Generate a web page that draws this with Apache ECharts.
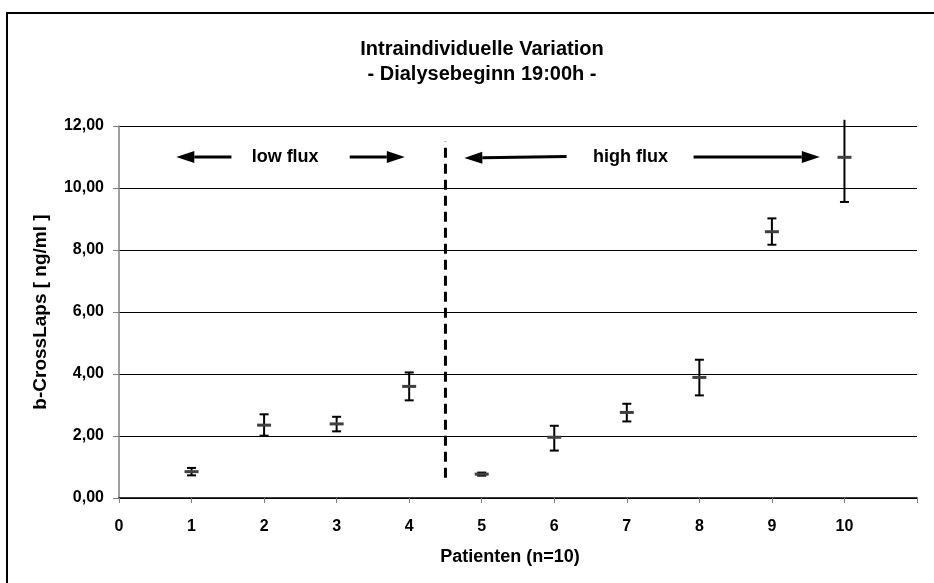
<!DOCTYPE html>
<html>
<head>
<meta charset="utf-8">
<script src="https://cdn.jsdelivr.net/npm/echarts@6/dist/echarts.min.js"></script>
<style>
html,body{margin:0;padding:0;background:#fff;}
#c{width:934px;height:583px;}
</style>
</head>
<body>
<div id="c"></div>
<script>
// Data
const patients = [1, 2, 3, 4, 5, 6, 7, 8, 9, 10];
const means = [0.85, 2.35, 2.39, 3.60, 0.77, 1.96, 2.76, 3.89, 8.59, 10.99];
const lows  = [0.73, 2.01, 2.15, 3.15, 0.72, 1.53, 2.47, 3.31, 8.17, 9.55];
const highs = [0.97, 2.70, 2.62, 4.05, 0.82, 2.33, 3.04, 4.46, 9.02, 12.2];
const yTicks = [0, 2, 4, 6, 8, 10, 12];
const xTicks = [0, 1, 2, 3, 4, 5, 6, 7, 8, 9, 10];
const dividerX = 4.5;
const dividerY = [0.65, 11.5];
// arrows: [fromX, fromY, toX(tip), toY]
const arrows = [
  [1.55, 11, 0.79, 11],
  [3.18, 11, 3.94, 11],
  [6.17, 11.02, 4.76, 10.97],
  [7.92, 11, 9.66, 11]
];
const groupLabels = [['low flux', 2.29, 11], ['high flux', 7.05, 11]];

const FONT = '"Liberation Sans", Arial, sans-serif';
const chart = echarts.init(document.getElementById('c'));

const errData = patients.map((p, i) => [p, means[i], lows[i], highs[i]]);

chart.setOption({
  backgroundColor: '#fff',
  animation: false,
  title: {
    text: 'Intraindividuelle Variation\n- Dialysebeginn 19:00h -',
    left: 477, top: 32, textAlign: 'center',
    textStyle: {fontFamily: FONT, fontWeight: 'bold', fontSize: 20, lineHeight: 25, color: '#000'}
  },
  graphic: [{
    type: 'rect', shape: {x: 7, y: 13, width: 940, height: 590},
    style: {fill: 'none', stroke: '#000', lineWidth: 2}, silent: true
  }],
  grid: {left: 119, right: 17, top: 126, bottom: 85},
  xAxis: {
    type: 'value', min: 0, max: 11, interval: 1,
    name: 'Patienten (n=10)', nameLocation: 'middle', nameGap: 50,
    nameTextStyle: {fontFamily: FONT, fontWeight: 'bold', fontSize: 18, color: '#000', padding: [0, 16, 0, 0]},
    axisLine: {show: true, onZero: false, lineStyle: {color: '#000', width: 1.5}},
    axisTick: {show: true, inside: false, length: 5, lineStyle: {color: '#808080'}},
    axisLabel: {
      margin: 21, fontFamily: FONT, fontWeight: 'bold', fontSize: 16, color: '#000',
      formatter: v => xTicks.indexOf(v) >= 0 ? String(v) : ''
    },
    splitLine: {show: false}
  },
  yAxis: {
    type: 'value', min: 0, max: 12, interval: 2,
    name: 'b-CrossLaps [ ng/ml ]', nameLocation: 'middle', nameGap: 69,
    nameTextStyle: {fontFamily: FONT, fontWeight: 'bold', fontSize: 19, color: '#000'},
    axisLine: {show: true, lineStyle: {color: '#808080', width: 1.5}},
    axisTick: {show: true, length: 6, lineStyle: {color: '#808080'}},
    axisLabel: {
      margin: 15, fontFamily: FONT, fontWeight: 'bold', fontSize: 16, color: '#000',
      formatter: v => yTicks.indexOf(v) >= 0 ? v.toFixed(2).replace('.', ',') : ''
    },
    splitLine: {show: true, lineStyle: {color: '#000', width: 1}}
  },
  series: [
    {
      type: 'custom', clip: false, z: 5,
      data: errData,
      renderItem: function (params, api) {
        const x = api.value(0), m = api.value(1), lo = api.value(2), hi = api.value(3);
        const pm = api.coord([x, m]);
        const pl = api.coord([x, lo]);
        const ph = api.coord([x, hi]);
        const capW = 4.5, mW = 7;
        const children = [
          {type: 'line', shape: {x1: pl[0], y1: pl[1], x2: ph[0], y2: ph[1]}, style: {stroke: '#000', lineWidth: 2}},
          {type: 'line', shape: {x1: pl[0] - capW, y1: pl[1], x2: pl[0] + capW, y2: pl[1]}, style: {stroke: '#000', lineWidth: 2}}
        ];
        if (hi <= 12) {
          children.push({type: 'line', shape: {x1: ph[0] - capW, y1: ph[1], x2: ph[0] + capW, y2: ph[1]}, style: {stroke: '#000', lineWidth: 2}});
        }
        children.push({type: 'line', shape: {x1: pm[0] - mW, y1: pm[1], x2: pm[0] + mW, y2: pm[1]}, style: {stroke: '#404040', lineWidth: 3}});
        return {type: 'group', children: children};
      }
    },
    {
      type: 'line', z: 4, symbol: 'none', silent: true,
      data: [[dividerX, dividerY[0]], [dividerX, dividerY[1]]],
      lineStyle: {color: '#000', width: 3, type: [10, 6]}
    },
    {
      type: 'custom', clip: false, z: 6,
      data: arrows,
      renderItem: function (params, api) {
        const a = api.coord([api.value(0), api.value(1)]);
        const b = api.coord([api.value(2), api.value(3)]);
        const dx = b[0] - a[0], dy = b[1] - a[1];
        const len = Math.sqrt(dx * dx + dy * dy);
        const ux = dx / len, uy = dy / len;
        const hl = 18, hw = 6;
        const bx = b[0] - ux * hl, by = b[1] - uy * hl;
        return {type: 'group', children: [
          {type: 'line', shape: {x1: a[0], y1: a[1], x2: bx, y2: by}, style: {stroke: '#000', lineWidth: 3}},
          {type: 'polygon', shape: {points: [[b[0], b[1]], [bx - uy * hw, by + ux * hw], [bx + uy * hw, by - ux * hw]]}, style: {fill: '#000'}}
        ]};
      }
    },
    {
      type: 'custom', clip: false, z: 6,
      data: groupLabels.map(g => [g[1], g[2]]),
      renderItem: function (params, api) {
        const p = api.coord([api.value(0), api.value(1)]);
        return {type: 'text', x: p[0], y: p[1], style: {
          text: groupLabels[params.dataIndex][0], fontFamily: FONT, fontWeight: 'bold', fontSize: 18,
          fill: '#000', align: 'center', verticalAlign: 'middle'
        }};
      }
    }
  ]
});
</script>
</body>
</html>
